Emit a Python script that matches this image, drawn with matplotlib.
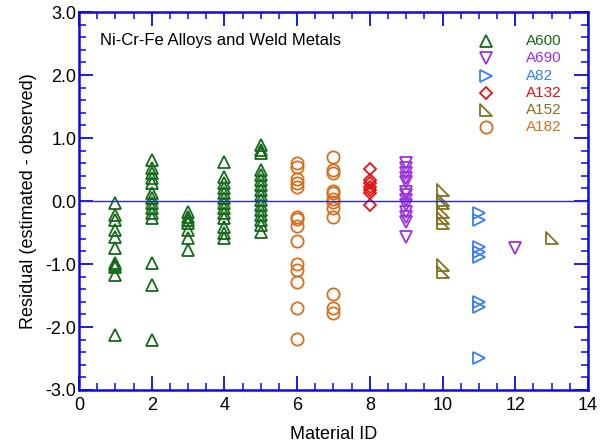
import matplotlib.pyplot as plt
import numpy as np
from matplotlib.path import Path
from matplotlib.ticker import MultipleLocator, FormatStrFormatter

plt.rcParams['font.family'] = ['Liberation Sans', 'DejaVu Sans']

# residuals per material
a600_id = [1] * 11 + [2] * 14 + [3] * 7 + [4] * 13 + [5] * 16
a600_res = [-0.03, -0.22, -0.30, -0.46, -0.57, -0.75, -0.98, -1.02, -1.05, -1.17, -2.13,
            0.65, 0.52, 0.44, 0.37, 0.29, 0.13, 0.05, -0.03, -0.11, -0.19, -0.27, -0.98, -1.33, -2.21,
            -0.17, -0.25, -0.30, -0.35, -0.46, -0.59, -0.78,
            0.62, 0.38, 0.29, 0.21, 0.13, 0.05, -0.03, -0.11, -0.19, -0.27, -0.41, -0.51, -0.59,
            0.89, 0.81, 0.76, 0.49, 0.41, 0.33, 0.25, 0.17, 0.10, 0.02, -0.06, -0.14, -0.22, -0.30,
            -0.38, -0.49]

a690_id = [9] * 13 + [12]
a690_res = [0.60, 0.52, 0.44, 0.37, 0.30, 0.14, 0.10, 0.02, -0.06, -0.17, -0.25, -0.33, -0.57,
            -0.75]

a82_id = [11] * 8
a82_res = [-0.19, -0.30, -0.73, -0.81, -0.89, -1.60, -1.68, -2.49]

a132_id = [8] * 7
a132_res = [0.51, 0.33, 0.29, 0.22, 0.17, 0.13, -0.07]

a152_id = [10] * 8 + [13]
a152_res = [0.17, 0.02, -0.03, -0.17, -0.27, -0.35, -1.02, -1.13, -0.58]

a182_id = [6] * 14 + [7] * 12
a182_res = [0.60, 0.54, 0.35, 0.29, 0.22, -0.25, -0.29, -0.40, -0.63, -1.00, -1.10, -1.29, -1.70, -2.19,
            0.70, 0.49, 0.44, 0.16, 0.13, 0.03, -0.02, -0.11, -0.25, -1.48, -1.70, -1.78]

names = ["A600", "A690", "A82", "A132", "A152", "A182"]

# right-angle triangle marker for A152
corner_tri = Path([(-1, 1), (-1, -1), (1, -1), (-1, 1)],
                  [Path.MOVETO, Path.LINETO, Path.LINETO, Path.CLOSEPOLY])

series = [
    (a600_id, a600_res, "^", "#15691a", 8.8),
    (a690_id, a690_res, "v", "#9b30e0", 8.8),
    (a82_id, a82_res, ">", "#3a7cff", 8.8),
    (a132_id, a132_res, "D", "#e01414", 6.5),
    (a152_id, a152_res, corner_tri, "#84701e", 8.0),
    (a182_id, a182_res, "o", "#d4701e", 8.8),
]

fig = plt.figure(figsize=(6.01, 4.48), dpi=100)
ax = fig.add_axes([0.1314, 0.1295, 0.8470, 0.8435])

for (ids, res, mk, col, ms) in series:
    ax.plot(ids, res, linestyle="none", marker=mk, markersize=ms,
            markerfacecolor="none", markeredgecolor=col, markeredgewidth=1.3)

ax.axhline(0, color="#2828d0", linewidth=1)

ax.set_xlim(0, 14)
ax.set_ylim(-3, 3)
ax.xaxis.set_major_locator(MultipleLocator(2))
ax.xaxis.set_minor_locator(MultipleLocator(0.5))
ax.yaxis.set_major_locator(MultipleLocator(1))
ax.yaxis.set_minor_locator(MultipleLocator(0.2))
ax.yaxis.set_major_formatter(FormatStrFormatter("%.1f"))

blue = "#0a0ae6"
for s in ax.spines.values():
    s.set_color(blue)
    s.set_linewidth(1.8)
ax.tick_params(which="both", direction="in", top=True, right=True, color=blue,
               labelsize=13)
ax.tick_params(axis="x", pad=5)
ax.tick_params(axis="y", pad=2)
ax.tick_params(which="major", length=10, width=1.3)
ax.tick_params(which="minor", length=5, width=1.1)

ax.set_xlabel("Material ID", fontsize=13, labelpad=9)
ax.set_ylabel("Residual (estimated - observed)", fontsize=13, labelpad=6)

ax.text(0.58, 2.55, "Ni-Cr-Fe Alloys and Weld Metals", fontsize=12, va="center")

# legend drawn as marker + colored label column
leg_y = [2.54, 2.27, 1.99, 1.72, 1.45, 1.18]
for (ids, res, mk, col, ms), name, yy in zip(series, names, leg_y):
    ax.plot([11.2], [yy], linestyle="none", marker=mk, markersize=ms,
            markerfacecolor="none", markeredgecolor=col, markeredgewidth=1.3)
    ax.text(12.3, yy, name, color=col, fontsize=11, va="center")

fig.savefig("out.png", dpi=100)
